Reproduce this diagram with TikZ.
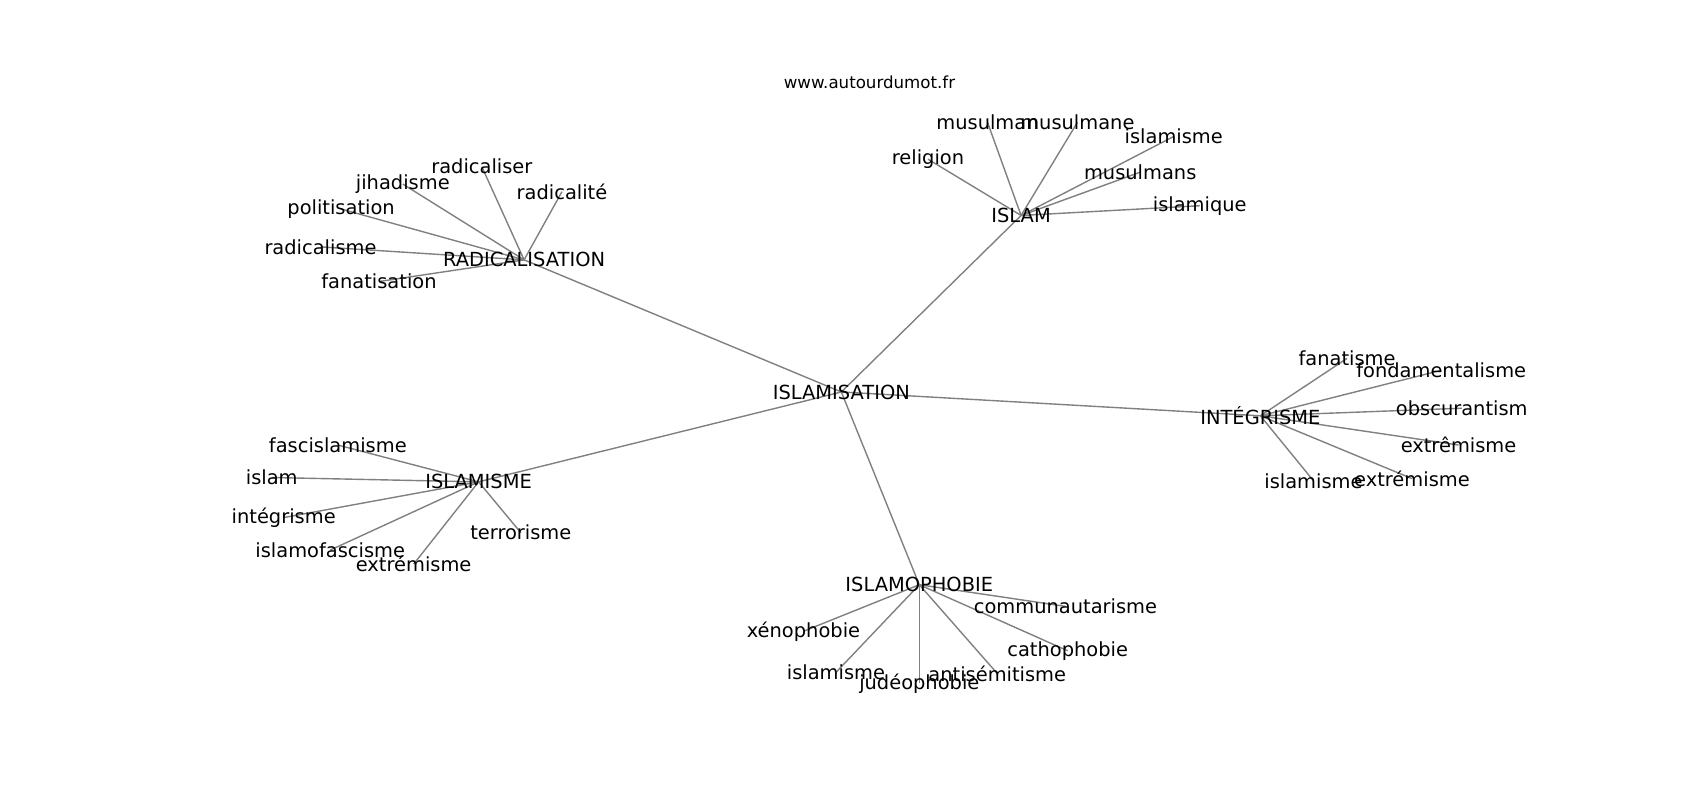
\documentclass[tikz,border=0pt]{standalone}
\usepackage{fontspec}
\setmainfont{DejaVu Sans}
\usepackage{tikz}
\usetikzlibrary{backgrounds}

\tikzset{
  mot/.style={font=\fontsize{9.72}{11}\selectfont, inner sep=0pt},
  lien/.style={gray, line width=0.7pt}
}

\begin{document}
\begin{tikzpicture}[x=0.54167pt, y=-0.54167pt]
\useasboundingbox (0,0) rectangle (1570,738);
\node[font=\fontsize{8.33}{10}\selectfont, inner sep=0pt] (site) at (803,76) {www.autourdumot.fr};
\node[mot] (isation) at (777,362) {ISLAMISATION};
\node[mot] (radic) at (484,240) {RADICALISATION};
\node[mot] (islam) at (943,199) {ISLAM};
\node[mot] (integ) at (1164,384) {INTÉGRISME};
\node[mot] (isme) at (442,445) {ISLAMISME};
\node[mot] (phobie) at (849,540) {ISLAMOPHOBIE};
\node[mot] (radicaliser) at (445,154) {radicaliser};
\node[mot] (jihadisme) at (372,170) {jihadisme};
\node[mot] (politisation) at (315,193) {politisation};
\node[mot] (radicalisme) at (296,228) {radicalisme};
\node[mot] (fanatisation) at (350,260) {fanatisation};
\node[mot] (radicalite) at (519,177) {radicalité};
\node[mot] (religion) at (857,147) {religion};
\node[mot] (musulman) at (912,113) {musulman};
\node[mot] (musulmane) at (995,113) {musulmane};
\node[mot] (islamismeA) at (1084,126) {islamisme};
\node[mot] (musulmans) at (1053,159) {musulmans};
\node[mot] (islamique) at (1108,190) {islamique};
\node[mot] (fanatisme) at (1244,331) {fanatisme};
\node[mot] (fondamentalisme) at (1331,342) {fondamentalisme};
\node[mot] (obscurantism) at (1350,377) {obscurantism};
\node[mot] (extremismeA) at (1347,411) {extrêmisme};
\node[mot] (extremismeB) at (1304,442) {extrémisme};
\node[mot] (islamismeB) at (1213,444) {islamisme};
\node[mot] (fascislamisme) at (312,411) {fascislamisme};
\node[mot] (islamA) at (251,441) {islam};
\node[mot] (integrisme) at (262,478) {intégrisme};
\node[mot] (islamofascisme) at (305,508) {islamofascisme};
\node[mot] (extremismeC) at (382,521) {extrémisme};
\node[mot] (terrorisme) at (481,492) {terrorisme};
\node[mot] (communautarisme) at (984,560) {communautarisme};
\node[mot] (xenophobie) at (742,583) {xénophobie};
\node[mot] (cathophobie) at (986,601) {cathophobie};
\node[mot] (islamismeC) at (772,621) {islamisme};
\node[mot] (antisemitisme) at (921,622) {antisémitisme};
\node[mot] (judeophobie) at (849,631) {judéophobie};
\begin{pgfonlayer}{background}
\draw[lien] (isation.center) -- (radic.center);
\draw[lien] (isation.center) -- (islam.center);
\draw[lien] (isation.center) -- (integ.center);
\draw[lien] (isation.center) -- (isme.center);
\draw[lien] (isation.center) -- (phobie.center);
\draw[lien] (radic.center) -- (radicaliser.center);
\draw[lien] (radic.center) -- (jihadisme.center);
\draw[lien] (radic.center) -- (politisation.center);
\draw[lien] (radic.center) -- (radicalisme.center);
\draw[lien] (radic.center) -- (fanatisation.center);
\draw[lien] (radic.center) -- (radicalite.center);
\draw[lien] (islam.center) -- (religion.center);
\draw[lien] (islam.center) -- (musulman.center);
\draw[lien] (islam.center) -- (musulmane.center);
\draw[lien] (islam.center) -- (islamismeA.center);
\draw[lien] (islam.center) -- (musulmans.center);
\draw[lien] (islam.center) -- (islamique.center);
\draw[lien] (integ.center) -- (fanatisme.center);
\draw[lien] (integ.center) -- (fondamentalisme.center);
\draw[lien] (integ.center) -- (obscurantism.center);
\draw[lien] (integ.center) -- (extremismeA.center);
\draw[lien] (integ.center) -- (extremismeB.center);
\draw[lien] (integ.center) -- (islamismeB.center);
\draw[lien] (isme.center) -- (fascislamisme.center);
\draw[lien] (isme.center) -- (islamA.center);
\draw[lien] (isme.center) -- (integrisme.center);
\draw[lien] (isme.center) -- (islamofascisme.center);
\draw[lien] (isme.center) -- (extremismeC.center);
\draw[lien] (isme.center) -- (terrorisme.center);
\draw[lien] (phobie.center) -- (communautarisme.center);
\draw[lien] (phobie.center) -- (xenophobie.center);
\draw[lien] (phobie.center) -- (cathophobie.center);
\draw[lien] (phobie.center) -- (islamismeC.center);
\draw[lien] (phobie.center) -- (antisemitisme.center);
\draw[lien] (phobie.center) -- (judeophobie.center);
\end{pgfonlayer}
\end{tikzpicture}
\end{document}
